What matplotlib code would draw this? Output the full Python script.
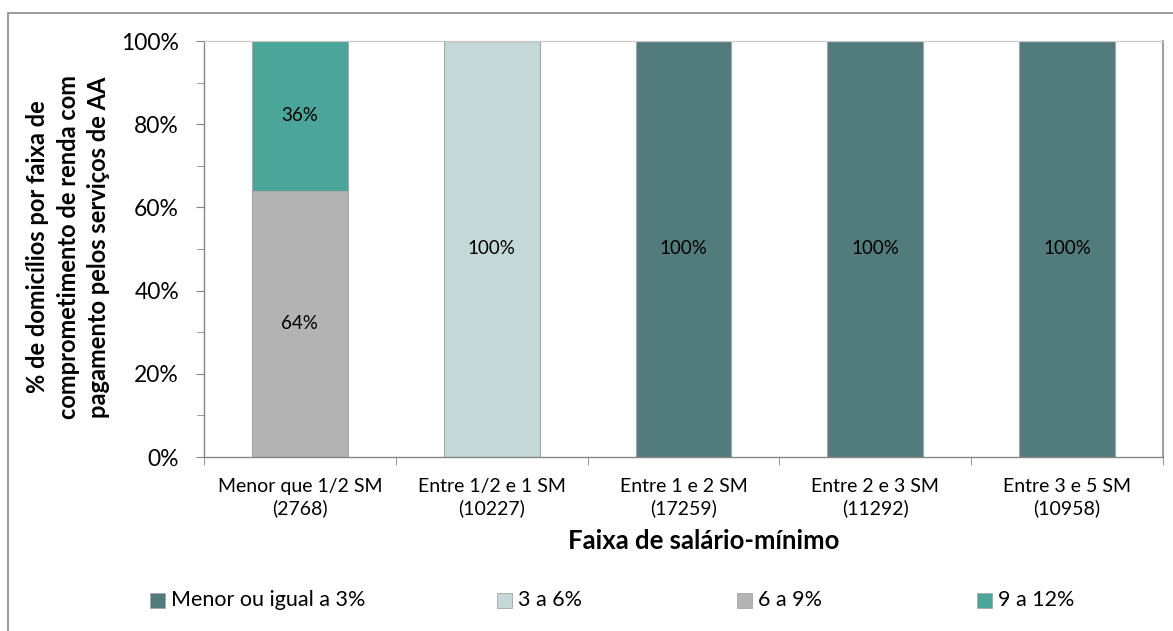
import matplotlib
matplotlib.use("Agg")
import matplotlib.pyplot as plt
from matplotlib.patches import Rectangle
from matplotlib.ticker import MultipleLocator, PercentFormatter

plt.rcParams['font.family'] = ['Lato', 'DejaVu Sans']

# Income bands (number of households in parentheses)
categories = ["Menor que 1/2 SM\n(2768)", "Entre 1/2 e 1 SM\n(10227)",
              "Entre 1 e 2 SM\n(17259)", "Entre 2 e 3 SM\n(11292)",
              "Entre 3 e 5 SM\n(10958)"]

# Share of households per income-commitment band (%)
series_names = ["Menor ou igual a 3%", "3 a 6%", "6 a 9%", "9 a 12%"]
menor_igual_3 = [0, 0, 100, 100, 100]
de_3_a_6 = [0, 100, 0, 0, 0]
de_6_a_9 = [64, 0, 0, 0, 0]
de_9_a_12 = [36, 0, 0, 0, 0]
series_values = [menor_igual_3, de_3_a_6, de_6_a_9, de_9_a_12]
colors = ["#527C7C", "#C3D8D7", "#B3B3B3", "#4BA699"]

W, H = 1173, 631
fig = plt.figure(figsize=(W / 100, H / 100), dpi=100)
ax = fig.add_axes([204 / W, 1 - 457 / H, (1163 - 204) / W, (457 - 41) / H])

x = list(range(len(categories)))
bottom = [0] * len(categories)
for name, vals, col in zip(series_names, series_values, colors):
    bars = ax.bar(x, vals, width=0.5, bottom=bottom, color=col,
                  edgecolor="#A6A6A6", linewidth=0.8, label=name, zorder=2)
    for rect, v, b in zip(bars, vals, bottom):
        if v > 0:
            ax.text(rect.get_x() + rect.get_width() / 2, b + v / 2, f"{v:.0f}%",
                    ha="center", va="center", fontsize=13.5, color="black", zorder=3)
    bottom = [b + v for b, v in zip(bottom, vals)]

ax.set_xlim(-0.5, len(categories) - 0.5)
ax.set_ylim(0, 100)
ax.yaxis.set_major_locator(MultipleLocator(20))
ax.yaxis.set_minor_locator(MultipleLocator(10))
ax.yaxis.set_major_formatter(PercentFormatter(decimals=0))
ax.tick_params(axis="y", which="major", labelsize=16.5, length=6, color="#868686", pad=12)
ax.tick_params(axis="y", which="minor", length=5, color="#868686")

# Category labels centred under bars, tick marks at category boundaries
ax.set_xticks(x)
ax.set_xticklabels(categories, fontsize=14, linespacing=1.3)
ax.tick_params(axis="x", which="major", length=0, pad=15)
ax.set_xticks([i - 0.5 for i in range(len(categories) + 1)], minor=True)
ax.tick_params(axis="x", which="minor", length=6, color="#868686")

for side in ("left", "bottom"):
    ax.spines[side].set_color("#868686")
    ax.spines[side].set_linewidth(1.0)
ax.spines["top"].set_color("#C8C8C8")
ax.spines["right"].set_color("#A0A0A0")
ax.spines["right"].set_linewidth(1.5)

fig.text(704 / W, 1 - 541 / H, "Faixa de salário-mínimo",
         ha="center", va="center", fontsize=18.5, fontweight="bold")
fig.text(68 / W, 1 - 247 / H,
         "% de domicílios por faixa de\ncomprometimento de renda com\npagamento pelos serviços de AA",
         rotation=90, ha="center", va="center", fontsize=17, fontweight="bold",
         linespacing=1.4)

# Legend row along the bottom
legend_x = [150, 497, 737, 977]
legend_y = 1 - 600 / H
sw, sh = 15 / W, 15 / H
for lx, name, col in zip(legend_x, series_names, colors):
    fig.add_artist(Rectangle((lx / W, legend_y - sh / 2), sw, sh,
                             transform=fig.transFigure, facecolor=col,
                             edgecolor="#A6A6A6", linewidth=0.6))
    fig.text((lx + 21) / W, legend_y, name, ha="left", va="center", fontsize=15.5)

# Outer chart frame
fig.add_artist(Rectangle((8 / W, -0.05), 1.2, 1 - 13 / H + 0.05,
                         transform=fig.transFigure, fill=False,
                         edgecolor="#8A8A8A", linewidth=1.2))

fig.savefig("out.png", dpi=100)
